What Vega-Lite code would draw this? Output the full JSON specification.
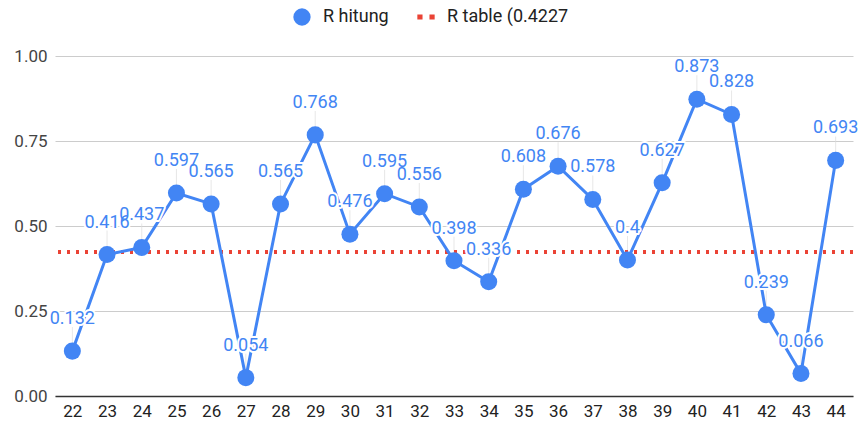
{
  "$schema": "https://vega.github.io/schema/vega-lite/v6.json",
  "width": 798,
  "height": 340,
  "autosize": "none",
  "padding": {"left": 55, "top": 56, "right": 6, "bottom": 27},
  "background": "white",
  "config": {"view": {"stroke": null}, "font": "Roboto"},
  "data": {"values": [
    {"x": "22", "v": 0.132}, {"x": "23", "v": 0.416}, {"x": "24", "v": 0.437},
    {"x": "25", "v": 0.597}, {"x": "26", "v": 0.565}, {"x": "27", "v": 0.054},
    {"x": "28", "v": 0.565}, {"x": "29", "v": 0.768}, {"x": "30", "v": 0.476},
    {"x": "31", "v": 0.595}, {"x": "32", "v": 0.556}, {"x": "33", "v": 0.398},
    {"x": "34", "v": 0.336}, {"x": "35", "v": 0.608}, {"x": "36", "v": 0.676},
    {"x": "37", "v": 0.578}, {"x": "38", "v": 0.4}, {"x": "39", "v": 0.627},
    {"x": "40", "v": 0.873}, {"x": "41", "v": 0.828}, {"x": "42", "v": 0.239},
    {"x": "43", "v": 0.066}, {"x": "44", "v": 0.693}
  ]},
  "encoding": {
    "x": {"field": "x", "type": "ordinal", "scale": {"type": "point", "padding": 0.5},
      "axis": {"title": null, "labelAngle": 0, "labelFontSize": 17, "labelColor": "#222", "labelFont": "Roboto",
        "ticks": false, "domainColor": "#333", "domainWidth": 1.5, "labelPadding": 7, "grid": false}},
    "y": {"field": "v", "type": "quantitative", "scale": {"domain": [0, 1], "nice": false},
      "axis": {"title": null, "values": [0, 0.25, 0.5, 0.75, 1], "format": ".2f", "labelFontSize": 17,
        "labelColor": "#444", "ticks": false, "domain": false, "gridColor": "#ccc", "labelPadding": 8}}
  },
  "layer": [
    {"mark": {"type": "tick", "orient": "vertical", "color": "#ddd", "thickness": 1, "size": 24, "yOffset": -12}},
    {"mark": {"type": "rule", "color": "#EA4335", "strokeWidth": 3, "strokeDash": [3, 6]},
      "encoding": {"y": {"datum": 0.4227}, "x": null}},
    {"mark": {"type": "line", "color": "#4285F4", "strokeWidth": 3}},
    {"mark": {"type": "point", "filled": true, "size": 290, "opacity": 1},
      "encoding": {
        "color": {"datum": "R hitung", "type": "nominal",
          "scale": {"domain": ["R hitung", "R table (0.4227"], "range": ["#4285F4", "#EA4335"]},
          "legend": {"title": null, "orient": "none", "legendX": 238, "legendY": -48, "direction": "horizontal",
            "symbolSize": 300, "labelFontSize": 18, "labelColor": "#222", "columnPadding": 28, "symbolStrokeWidth": 0, "labelOffset": 12}},
        "shape": {"datum": "R hitung", "type": "nominal",
          "scale": {"domain": ["R hitung", "R table (0.4227"], "range": ["circle", "M-1,-0.3H-0.4V0.3H-1Z M0.4,-0.3H1V0.3H0.4Z"]},
          "legend": {"title": null, "orient": "none", "legendX": 238, "legendY": -48, "direction": "horizontal",
            "symbolSize": 300, "labelFontSize": 18, "labelColor": "#222", "columnPadding": 28, "symbolStrokeWidth": 0, "labelOffset": 12}}}},
    {"mark": {"type": "text", "color": "white", "stroke": "white", "strokeWidth": 4, "strokeJoin": "round", "fontSize": 18, "dy": -32, "baseline": "middle"},
      "encoding": {"text": {"field": "v", "type": "quantitative"}}},
    {"mark": {"type": "text", "color": "#4285F4", "fontSize": 18, "dy": -32, "baseline": "middle"},
      "encoding": {"text": {"field": "v", "type": "quantitative"}}}
  ]
}
